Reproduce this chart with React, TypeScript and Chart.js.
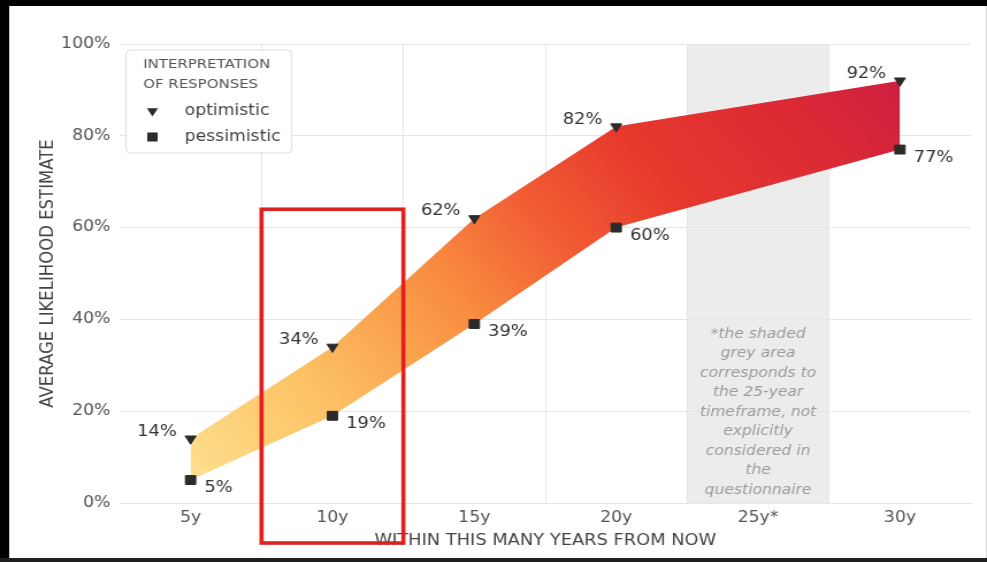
import React, { useEffect, useRef } from 'react';
import { Chart, registerables } from 'chart.js';

Chart.register(...registerables);

// ---- data ----
const categories = ['5y', '10y', '15y', '20y', '25y*', '30y'];
const optimistic: (number | null)[] = [14, 34, 62, 82, null, 92];
const pessimistic: (number | null)[] = [5, 19, 39, 60, null, 77];
const yTicks = [0, 20, 40, 60, 80, 100];
const seriesNames = ['optimistic', 'pessimistic'];
const legendTitle = ['INTERPRETATION', 'OF RESPONSES'];
const noteLines = ['*the shaded', 'grey area', 'corresponds to', 'the 25-year', 'timeframe, not', 'explicitly', 'considered in', 'the', 'questionnaire'];
const shadedCategory = '25y*';
const highlightCategory = '10y';
const highlightTopValue = 64;
const xTitle = 'WITHIN THIS MANY YEARS FROM NOW';
const yTitle = 'AVERAGE LIKELIHOOD ESTIMATE';

// ---- canvas geometry (the reference is horizontally stretched) ----
const STRETCH = 1.15;
const OUT_W = 987;
const OUT_H = 562;
const W = Math.round(OUT_W / STRETCH);
const H = OUT_H;
const FONT = '"DejaVu Sans", "Liberation Sans", sans-serif';

function fillGradient(chart: any) {
  const { chartArea, scales } = chart;
  if (!chartArea || !scales || !scales.x || !scales.y) return 'rgba(250,150,60,0.9)';
  const x = scales.x;
  const y = scales.y;
  const g = chart.ctx.createLinearGradient(
    x.getPixelForValue(0), y.getPixelForValue(0),
    x.getPixelForValue(categories.length - 1), y.getPixelForValue(100)
  );
  g.addColorStop(0, '#fee293');
  g.addColorStop(0.2, '#fdc264');
  g.addColorStop(0.4, '#f98d40');
  g.addColorStop(0.54, '#f15d34');
  g.addColorStop(0.68, '#e7382d');
  g.addColorStop(0.85, '#dc2a35');
  g.addColorStop(1, '#c81d42');
  return g;
}

const framePlugin = {
  id: 'frameAndBand',
  beforeDraw(chart: any) {
    const { ctx, chartArea: ca, scales } = chart;
    ctx.save();
    ctx.fillStyle = '#000';
    ctx.fillRect(0, 0, W, H);
    ctx.fillStyle = '#1e1e1e';
    ctx.fillRect(0, H - 4, W, 4);
    ctx.fillStyle = '#fff';
    ctx.fillRect(8, 6, W - 8, H - 10);
    ctx.fillStyle = '#d8d8d8';
    ctx.fillRect(W - 1, 6, 1, H - 10);
    // grey band for the shaded category
    const x = scales.x;
    const idx = categories.indexOf(shadedCategory);
    const half = (x.getPixelForValue(1) - x.getPixelForValue(0)) / 2;
    const cx = x.getPixelForValue(idx);
    ctx.fillStyle = '#ececec';
    ctx.fillRect(cx - half, ca.top, half * 2, ca.bottom - ca.top);
    ctx.restore();
  },
  beforeDatasetsDraw(chart: any) {
    const { ctx, chartArea: ca, scales } = chart;
    const x = scales.x;
    const cx = x.getPixelForValue(categories.indexOf(shadedCategory));
    ctx.save();
    ctx.font = 'italic 13.5px ' + FONT;
    ctx.fillStyle = '#9c9c9c';
    ctx.textAlign = 'center';
    ctx.textBaseline = 'middle';
    const lh = 19.5;
    const lastY = ca.bottom - 13;
    noteLines.forEach((t, i) => {
      ctx.fillText(t, cx, lastY - (noteLines.length - 1 - i) * lh);
    });
    ctx.restore();
  },
};

const labelPlugin = {
  id: 'valueLabels',
  afterDatasetsDraw(chart: any) {
    const ctx = chart.ctx;
    ctx.save();
    ctx.font = '15.5px ' + FONT;
    ctx.fillStyle = '#333';
    ctx.textBaseline = 'middle';
    chart.data.datasets.forEach((ds: any, di: number) => {
      const meta = chart.getDatasetMeta(di);
      meta.data.forEach((pt: any, i: number) => {
        const v = ds.data[i];
        if (v == null) return;
        if (di === 0) {
          ctx.textAlign = 'right';
          ctx.fillText(v + '%', pt.x - 12, pt.y - 7);
        } else {
          ctx.textAlign = 'left';
          ctx.fillText(v + '%', pt.x + 12, pt.y + 8);
        }
      });
    });
    ctx.restore();
  },
};

function drawTriangleDown(ctx: CanvasRenderingContext2D, x: number, y: number, r: number) {
  const s = Math.sin(Math.PI / 3);
  ctx.beginPath();
  ctx.moveTo(x, y + r);
  ctx.lineTo(x - r * s, y - r / 2);
  ctx.lineTo(x + r * s, y - r / 2);
  ctx.closePath();
  ctx.fill();
}

const overlayPlugin = {
  id: 'overlay',
  afterDraw(chart: any) {
    const { ctx, chartArea: ca, scales } = chart;
    const x = scales.x;
    const y = scales.y;
    ctx.save();
    // legend
    const lx = ca.left + 5.5;
    const ly = ca.top + 6;
    const lw = 144;
    const lh = 103;
    ctx.beginPath();
    const r = 4;
    ctx.moveTo(lx + r, ly);
    ctx.lineTo(lx + lw - r, ly);
    ctx.quadraticCurveTo(lx + lw, ly, lx + lw, ly + r);
    ctx.lineTo(lx + lw, ly + lh - r);
    ctx.quadraticCurveTo(lx + lw, ly + lh, lx + lw - r, ly + lh);
    ctx.lineTo(lx + r, ly + lh);
    ctx.quadraticCurveTo(lx, ly + lh, lx, ly + lh - r);
    ctx.lineTo(lx, ly + r);
    ctx.quadraticCurveTo(lx, ly, lx + r, ly);
    ctx.closePath();
    ctx.fillStyle = 'rgba(255,255,255,0.85)';
    ctx.fill();
    ctx.strokeStyle = '#dedede';
    ctx.lineWidth = 1;
    ctx.stroke();

    ctx.fillStyle = '#555';
    ctx.font = '13px ' + FONT;
    ctx.textAlign = 'left';
    ctx.textBaseline = 'middle';
    legendTitle.forEach((t, i) => ctx.fillText(t, lx + 15, ly + 15 + i * 20));

    ctx.fillStyle = '#2b2b2b';
    drawTriangleDown(ctx, lx + 23, ly + 61, 5.5);
    const sq = 9;
    ctx.fillRect(lx + 23 - sq / 2, ly + 87 - sq / 2, sq, sq);
    ctx.fillStyle = '#444';
    ctx.font = '15px ' + FONT;
    ctx.fillText(seriesNames[0], lx + 51, ly + 61);
    ctx.fillText(seriesNames[1], lx + 51, ly + 87);

    // red highlight rectangle
    const idx = categories.indexOf(highlightCategory);
    const half = (x.getPixelForValue(1) - x.getPixelForValue(0)) / 2;
    const cx = x.getPixelForValue(idx);
    const top = y.getPixelForValue(highlightTopValue);
    const bottom = ca.bottom + 40;
    ctx.strokeStyle = '#df2020';
    ctx.lineWidth = 3.6;
    ctx.strokeRect(cx - half, top, half * 2, bottom - top);
    ctx.restore();
  },
};

const gridColor = '#e6e6e6';

export default function App() {
  const ref = useRef<HTMLCanvasElement | null>(null);

  useEffect(() => {
    if (!ref.current) return;
    const chart = new Chart(ref.current, {
      type: 'line',
      data: {
        labels: categories,
        datasets: [
          {
            label: seriesNames[0],
            data: optimistic,
            fill: '+1',
            backgroundColor: (c: any) => fillGradient(c.chart),
            borderColor: 'rgba(0,0,0,0)',
            borderWidth: 1,
            spanGaps: true,
            tension: 0,
            pointStyle: 'triangle',
            pointRotation: 180,
            pointRadius: 5.5,
            pointBackgroundColor: '#2b2b2b',
            pointBorderColor: '#2b2b2b',
            pointBorderWidth: 1,
          },
          {
            label: seriesNames[1],
            data: pessimistic,
            fill: false,
            borderColor: 'rgba(0,0,0,0)',
            borderWidth: 1,
            spanGaps: true,
            tension: 0,
            pointStyle: 'rect',
            pointRadius: 6.3,
            pointBackgroundColor: '#2b2b2b',
            pointBorderColor: '#2b2b2b',
            pointBorderWidth: 1,
          },
        ],
      } as any,
      options: {
        responsive: false,
        maintainAspectRatio: false,
        devicePixelRatio: 1,
        animation: false,
        events: [],
        layout: { padding: { left: 8, right: 14, top: 44, bottom: 4 } },
        plugins: {
          legend: { display: false },
          tooltip: { enabled: false },
          filler: { drawTime: 'beforeDatasetsDraw' },
        } as any,
        scales: {
          x: {
            type: 'category',
            offset: true,
            grid: {
              offset: true,
              drawTicks: false,
              color: (c: any) => (c.type !== 'tick' || c.index === 0 ? 'rgba(0,0,0,0)' : gridColor),
              lineWidth: 1,
            },
            border: { display: true, color: gridColor },
            ticks: {
              color: '#555',
              font: { family: FONT, size: 15 },
              padding: 6,
              maxRotation: 0,
              autoSkip: false,
            },
            title: {
              display: true,
              text: xTitle,
              color: '#444',
              font: { family: FONT, size: 15.5 },
              padding: { top: 0, bottom: 8 },
            },
            afterFit: (s: any) => {
              s.height = 55;
            },
          },
          y: {
            type: 'linear',
            min: 0,
            max: 100,
            grid: { color: gridColor, drawTicks: false, lineWidth: 1 },
            border: { display: false },
            ticks: {
              color: '#555',
              font: { family: FONT, size: 15 },
              padding: 8,
              callback: (v: any) => v + '%',
            },
            afterBuildTicks: (s: any) => {
              s.ticks = yTicks.map((v) => ({ value: v }));
            },
            title: {
              display: true,
              text: yTitle,
              color: '#444',
              font: { family: FONT, size: 16.5 },
              padding: { top: 24, bottom: 0 },
            },
            afterFit: (s: any) => {
              s.width = 96;
            },
          },
        } as any,
      },
      plugins: [framePlugin, labelPlugin, overlayPlugin],
    });
    return () => chart.destroy();
  }, []);

  return (
    <div style={{ position: 'fixed', left: 0, top: 0, width: OUT_W, height: OUT_H, overflow: 'hidden', background: '#000' }}>
      <canvas
        ref={ref}
        width={W}
        height={H}
        style={{ display: 'block', width: OUT_W + 'px', height: OUT_H + 'px' }}
      />
    </div>
  );
}
